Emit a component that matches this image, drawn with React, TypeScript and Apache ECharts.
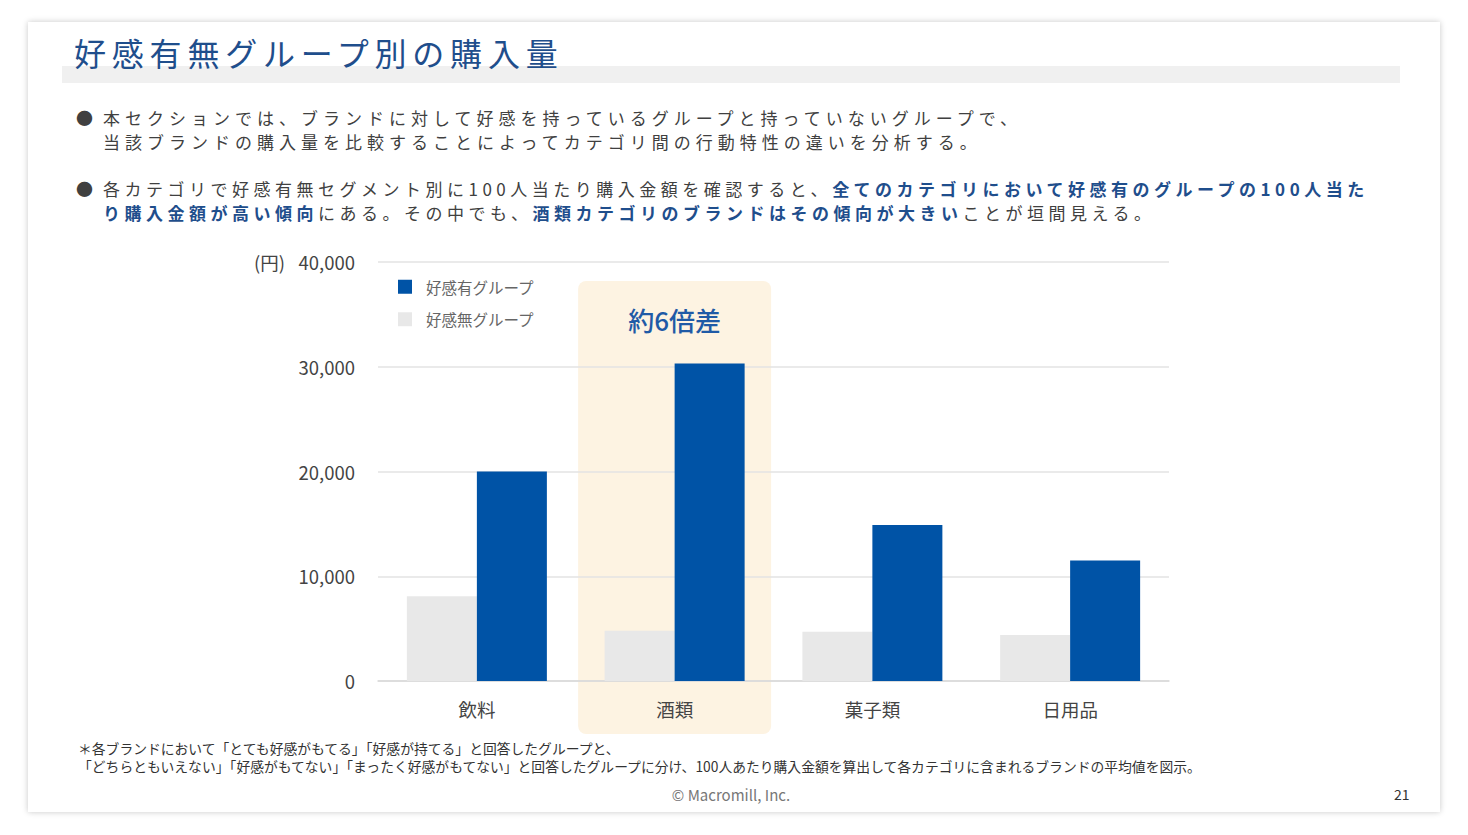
import React, { useEffect, useRef } from "react";
import * as echarts from "echarts";

const categories = ["飲料", "酒類", "菓子類", "日用品"];
const seriesNames = ["好感有グループ", "好感無グループ"];
const likeValues = [20000, 30300, 14900, 11500];
const noLikeValues = [8100, 4800, 4700, 4400];
const yTicks = { min: 0, max: 40000, interval: 10000 };
const highlightCategory = "酒類";
const highlightLabel = "約6倍差";

const FONT = '"Noto Sans CJK JP", "Noto Sans", sans-serif';
const BLUE = "#0053A6";
const TITLE_BLUE = "#1F4E8C";

export default function App() {
  const ref = useRef<HTMLDivElement>(null);

  useEffect(() => {
    if (!ref.current) return;
    const chart = echarts.init(ref.current, undefined, { renderer: "svg" });
    chart.setOption({
      animation: false,
      textStyle: { fontFamily: FONT },
      grid: { left: 378, top: 262, right: 299, bottom: 154, containLabel: false },
      legend: {
        orient: "vertical",
        left: 393,
        top: 274,
        itemWidth: 14,
        itemHeight: 14,
        itemGap: 17,
        icon: "rect",
        data: seriesNames,
        textStyle: { color: "#666", fontSize: 15.5, padding: [0, 0, 0, 9], fontFamily: FONT },
      },
      xAxis: {
        type: "category",
        data: categories,
        axisLine: { lineStyle: { color: "#D9D9D9", width: 1.5 } },
        axisTick: { show: false },
        axisLabel: { color: "#444", fontSize: 18.5, margin: 19, fontFamily: FONT },
      },
      yAxis: {
        type: "value",
        min: yTicks.min,
        max: yTicks.max,
        interval: yTicks.interval,
        name: "(円)",
        nameLocation: "end",
        nameGap: 0,
        nameTextStyle: {
          color: "#444",
          fontSize: 18.5,
          align: "right",
          verticalAlign: "middle",
          padding: [0, 93, 0, 0],
          fontFamily: FONT,
        },
        axisLine: { show: false },
        axisTick: { show: false },
        splitLine: { lineStyle: { color: "#E3E3E3", width: 1.5 } },
        axisLabel: {
          color: "#444",
          fontSize: 18.5,
          margin: 23,
          fontFamily: FONT,
          formatter: (v: number) => v.toLocaleString("en-US"),
        },
      },
      series: [
        {
          name: seriesNames[1],
          type: "bar",
          data: noLikeValues,
          barWidth: 70,
          barGap: "0%",
          itemStyle: { color: "#E8E8E8" },
          z: 3,
        },
        {
          name: seriesNames[0],
          type: "bar",
          data: likeValues,
          barWidth: 70,
          barGap: "0%",
          itemStyle: { color: BLUE },
          z: 3,
        },
      ],
    });

    const idx = categories.indexOf(highlightCategory);
    const cx = chart.convertToPixel({ xAxisIndex: 0 }, idx) as number;
    const topY = chart.convertToPixel({ yAxisIndex: 0 }, yTicks.max) as number;
    const baseY = chart.convertToPixel({ yAxisIndex: 0 }, 0) as number;
    const boxW = 193;
    chart.setOption({
      graphic: [
        {
          type: "rect",
          z: -10,
          shape: { x: cx - boxW / 2, y: topY + 19, width: boxW, height: baseY - topY + 34, r: 8 },
          style: { fill: "#FDF3E2" },
        },
        {
          type: "text",
          z: 10,
          x: cx,
          y: topY + 57,
          style: {
            text: highlightLabel,
            fill: "#1F5AA6",
            font: `500 26px ${FONT}`,
            align: "center",
            verticalAlign: "middle",
          },
        },
      ],
    });

    return () => chart.dispose();
  }, []);

  const bold: React.CSSProperties = { color: TITLE_BLUE, fontWeight: 700 };
  const bodyLine: React.CSSProperties = {
    whiteSpace: "nowrap",
    fontSize: 17,
    letterSpacing: 5.0,
    lineHeight: "24px",
    color: "#404040",
  };

  return (
    <div
      style={{
        position: "fixed",
        left: 0,
        top: 0,
        width: 1468,
        height: 835,
        background: "#fff",
        fontFamily: FONT,
        overflow: "hidden",
      }}
    >
      <div
        style={{
          position: "absolute",
          left: 28,
          top: 22,
          width: 1412,
          height: 790,
          background: "#fff",
          boxShadow: "0 0 6px rgba(0,0,0,0.22)",
        }}
      />
      <div style={{ position: "absolute", left: 62, top: 66, width: 1338, height: 17, background: "#F0F0F0" }} />
      <div
        style={{
          position: "absolute",
          left: 74,
          top: 28,
          fontSize: 32,
          letterSpacing: 5.8,
          color: TITLE_BLUE,
          whiteSpace: "nowrap",
          lineHeight: "48px",
        }}
      >
        好感有無グループ別の購入量
      </div>

      <div style={{ position: "absolute", left: 76, top: 106 }}>
        <div style={{ ...bodyLine, position: "relative", paddingLeft: 27 }}>
          <span style={{ position: "absolute", left: 0, top: 0, letterSpacing: 0 }}>●</span>
          本セクションでは、ブランドに対して好感を持っているグループと持っていないグループで、
        </div>
        <div style={{ ...bodyLine, paddingLeft: 27 }}>
          当該ブランドの購入量を比較することによってカテゴリ間の行動特性の違いを分析する。
        </div>
      </div>

      <div style={{ position: "absolute", left: 76, top: 177 }}>
        <div style={{ ...bodyLine, position: "relative", paddingLeft: 27, letterSpacing: 4.5 }}>
          <span style={{ position: "absolute", left: 0, top: 0, letterSpacing: 0 }}>●</span>
          各カテゴリで好感有無セグメント別に100人当たり購入金額を確認すると、
          <span style={bold}>全てのカテゴリにおいて好感有のグループの100人当た</span>
        </div>
        <div style={{ ...bodyLine, paddingLeft: 27, letterSpacing: 4.5 }}>
          <span style={bold}>り購入金額が高い傾向</span>にある。その中でも、
          <span style={bold}>酒類カテゴリのブランドはその傾向が大きい</span>ことが垣間見える。
        </div>
      </div>

      <div ref={ref} style={{ position: "absolute", left: 0, top: 0, width: 1468, height: 835 }} />

      <div
        style={{
          position: "absolute",
          left: 78,
          top: 739,
          fontSize: 13.8,
          lineHeight: "18px",
          color: "#333",
          whiteSpace: "nowrap",
        }}
      >
        <div>＊各ブランドにおいて「とても好感がもてる」「好感が持てる」と回答したグループと、</div>
        <div>
          「どちらともいえない」「好感がもてない」「まったく好感がもてない」と回答したグループに分け、100人あたり購入金額を算出して各カテゴリに含まれるブランドの平均値を図示。
        </div>
      </div>
      <div
        style={{
          position: "absolute",
          left: 0,
          width: 1462,
          top: 784,
          textAlign: "center",
          fontSize: 15,
          color: "#777",
        }}
      >
        © Macromill, Inc.
      </div>
      <div style={{ position: "absolute", left: 1394, top: 784, fontSize: 14, color: "#333" }}>21</div>
    </div>
  );
}
